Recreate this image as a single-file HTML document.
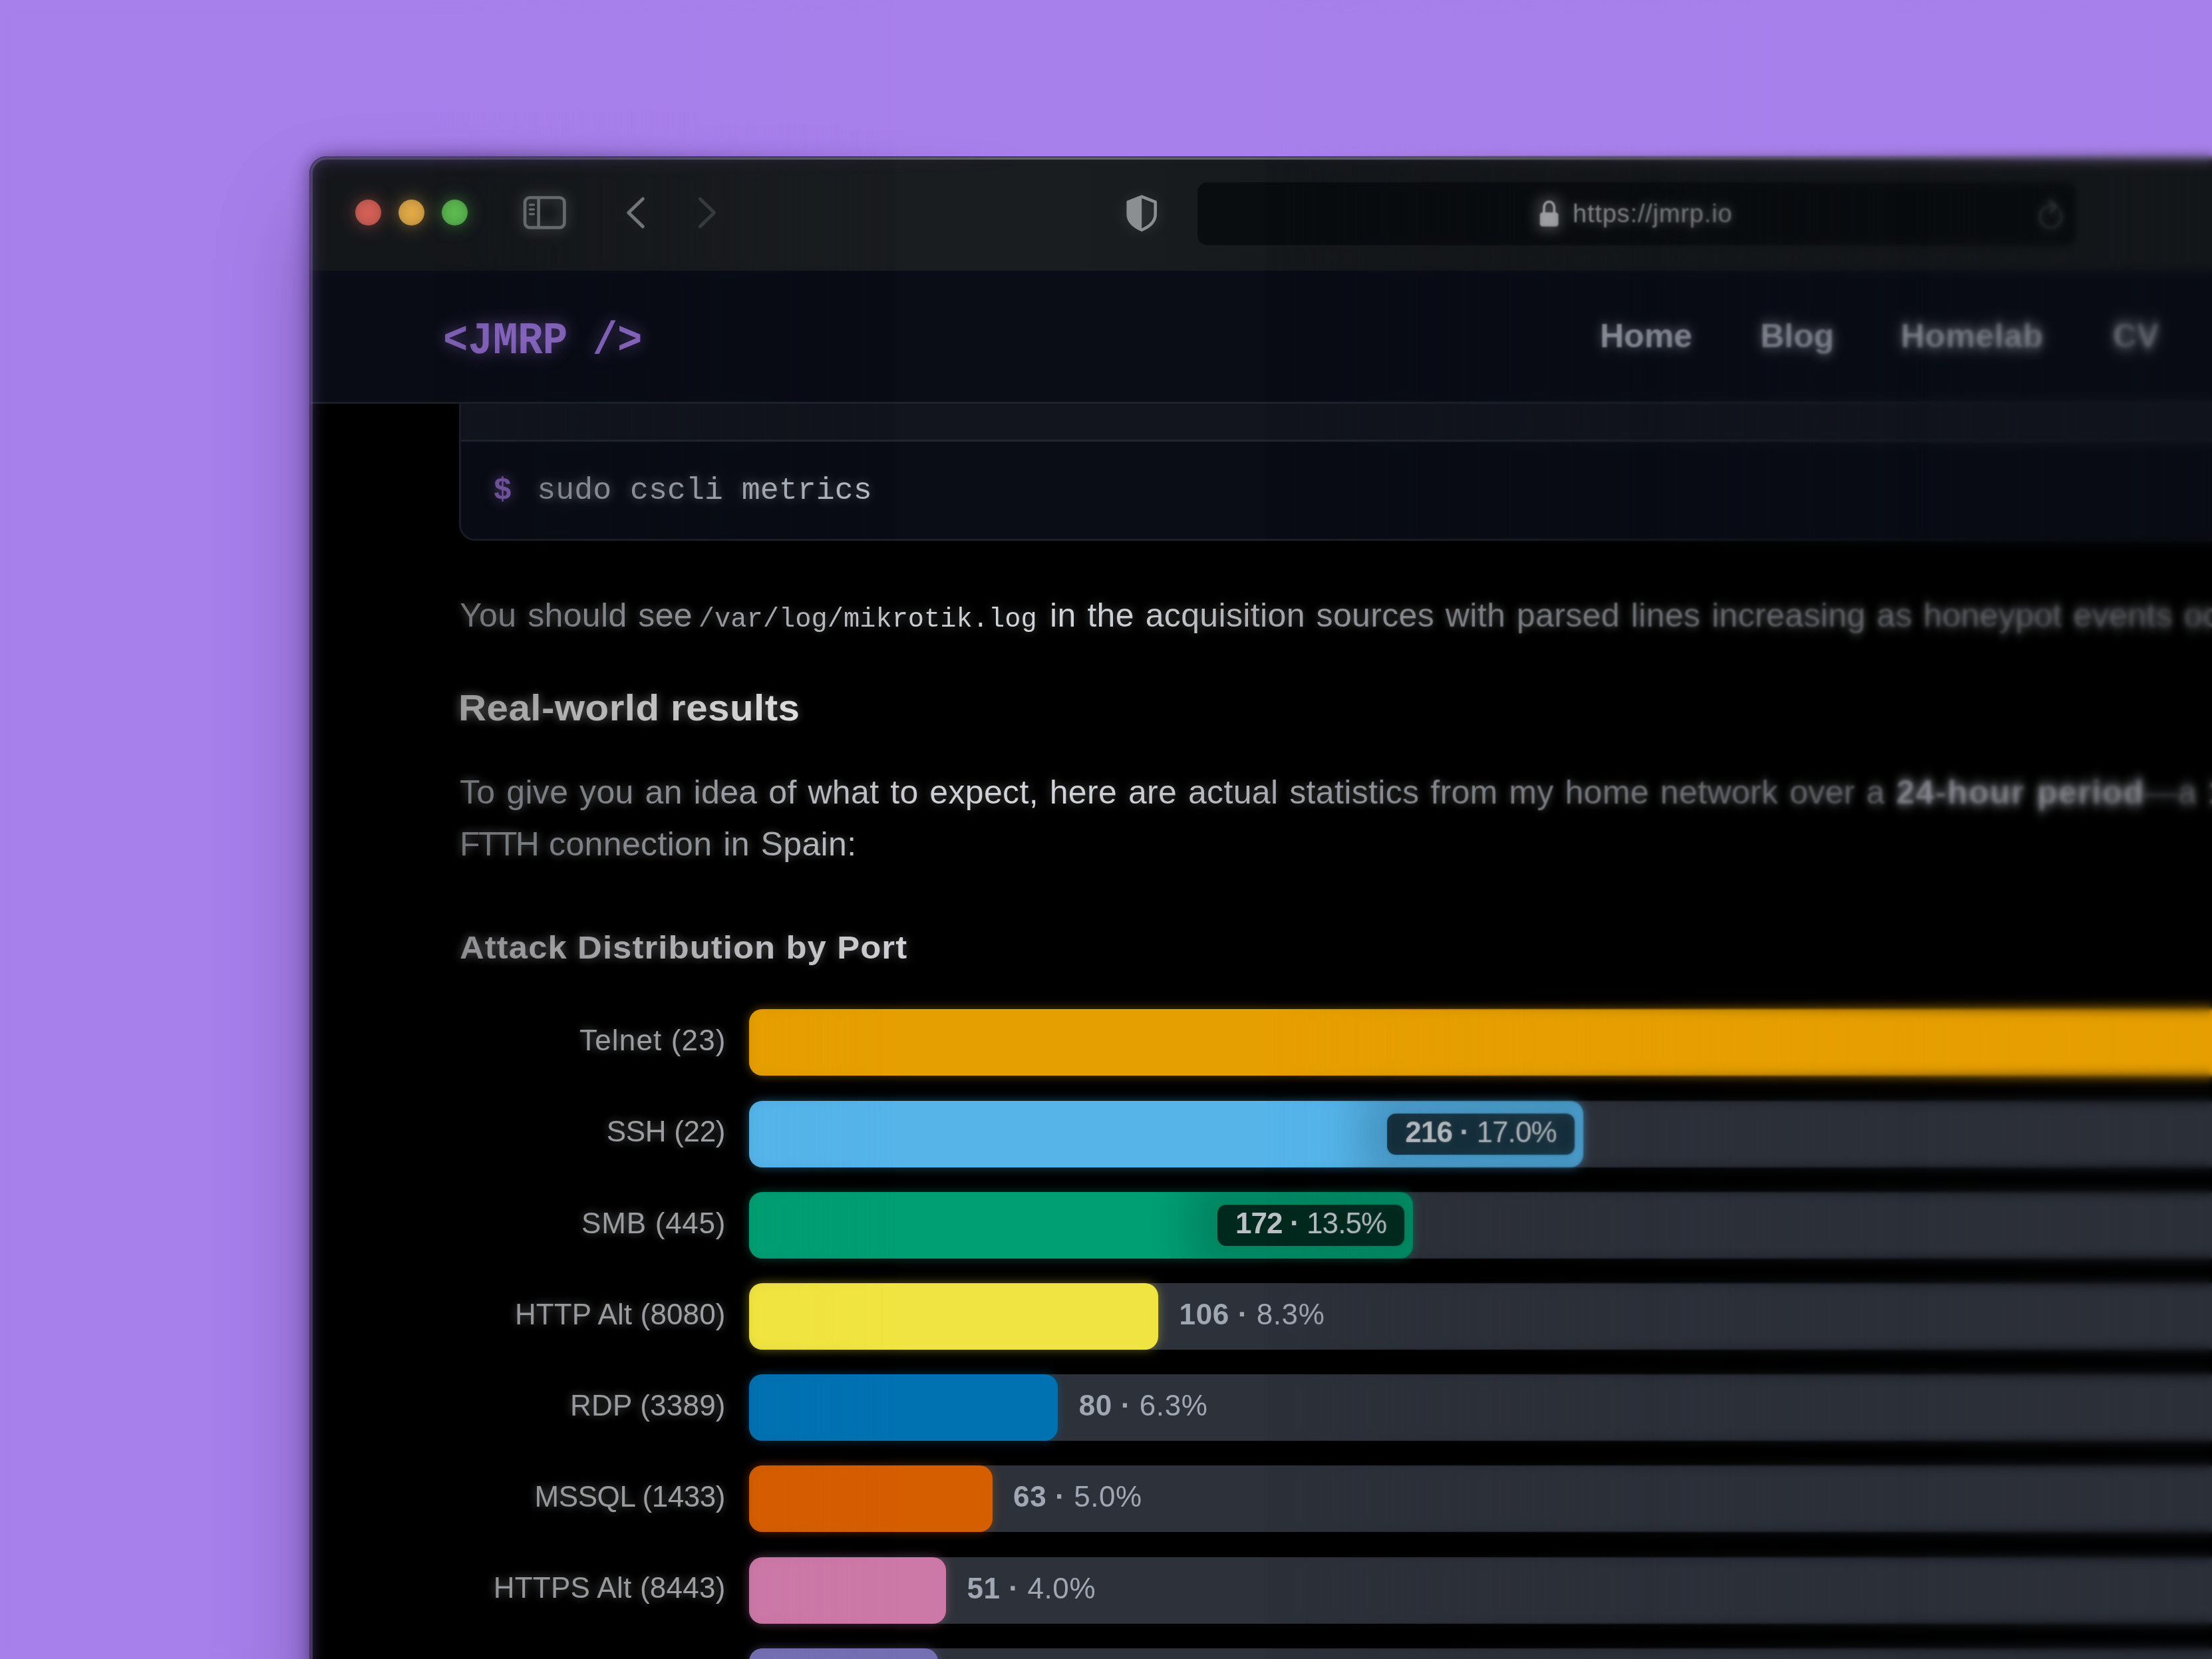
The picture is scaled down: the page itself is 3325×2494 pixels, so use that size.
<!DOCTYPE html>
<html lang="en">
<head>
<meta charset="utf-8">
<title>jmrp.io – MikroTik honeypot with CrowdSec</title>
<style>
*{box-sizing:border-box;margin:0;padding:0}
html,body{width:3325px;height:2494px;overflow:hidden;background:#a880eb}
body{position:relative;font-family:"Liberation Sans",sans-serif}
.abs{position:absolute}
.nw{white-space:nowrap}
/* ---------- window ---------- */
.shadow{position:absolute;left:465px;top:235px;width:3100px;height:2500px;border-radius:26px;
  box-shadow:0 0 30px 0 rgba(24,12,54,.5),0 80px 140px 0 rgba(24,12,54,.28)}
.win{position:absolute;left:465px;top:235px;width:3100px;height:2500px;border-radius:26px;background:#000;overflow:hidden}
.rim{position:absolute;left:465px;top:235px;width:3100px;height:2500px;border-radius:26px;pointer-events:none;
  box-shadow:inset 0 0 0 1.5px rgba(50,34,82,.5),inset 0 0 0 5px rgba(150,135,190,.37),inset 0 0 24px 4px rgba(104,78,166,.4)}
.mk{position:absolute;left:0;top:0;width:3325px;height:2494px;pointer-events:none}
.mkL{-webkit-mask-image:linear-gradient(to right,#000 0,#000 700px,rgba(0,0,0,.35) 1150px,transparent 1550px);mask-image:linear-gradient(to right,#000 0,#000 700px,rgba(0,0,0,.35) 1150px,transparent 1550px)}
.mkR{-webkit-mask-image:linear-gradient(to right,transparent 0,transparent 700px,rgba(0,0,0,.65) 1150px,#000 1550px);mask-image:linear-gradient(to right,transparent 0,transparent 700px,rgba(0,0,0,.65) 1150px,#000 1550px)}
.rimN{box-shadow:inset 0 0 0 1.5px rgba(20,16,30,.55),inset 0 0 0 5px rgba(255,255,255,.3),inset 0 0 14px 2px rgba(90,80,120,.12)}
.titlebar{position:absolute;left:0;top:0;width:100%;height:172px;background:linear-gradient(to right,#15181b 0,#15181b 250px,#1a1d20 750px,#1a1d20 1150px,#16191c 1500px,#15181b 1900px)}
.nav{position:absolute;left:0;top:172px;width:100%;height:200px;background:#0a0d16;border-bottom:3px solid #1f242c}
.dot{position:absolute;width:39px;height:39px;border-radius:50%;top:300px}
/* everything below is positioned in page coordinates */
.mono{font-family:"Liberation Mono",monospace}
.glow{filter:drop-shadow(0 0 7px rgba(255,255,255,.28))}
.gt{color:transparent;-webkit-background-clip:text;background-clip:text;background-repeat:no-repeat;
  background-image:linear-gradient(to right,#84888e 0,#8c9096 200px,#979ba1 360px,#b7babf 520px,#cbced3 700px,#d2d5da 880px,#cbced3 1020px,#b2b5ba 1150px,#9c9fa5 1300px,#8a8e94 1500px,#83878d 1700px,#80848a 1900px,#82868c 2150px,#868a90 2400px,#888c92 2640px)}
.p{position:absolute;left:691px;font-size:50px;line-height:78px;white-space:nowrap;width:2700px;letter-spacing:.35px;word-spacing:2.5px}
.p b{letter-spacing:1.5px;background:#a3a7b0;-webkit-background-clip:text;background-clip:text;color:transparent;filter:blur(1.3px) drop-shadow(0 0 7px rgba(150,155,165,.3))}
.p .mono{letter-spacing:0;word-spacing:0}
.h{position:absolute;left:691px;font-weight:bold;white-space:nowrap;width:2700px}
.navl{top:469px;font-size:50px;line-height:72px;font-weight:bold;color:#a3a8b2;filter:drop-shadow(0 0 8px rgba(163,168,178,.35))}
/* chart */
.lab{position:absolute;left:600px;width:489.5px;text-align:right;font-size:44px;line-height:60px;color:#a9abae;white-space:nowrap}
.track{position:absolute;left:1126px;width:2400px;height:100px;background:#2d313a;border-radius:20px}
.bar{position:absolute;left:0;top:0;height:100px;border-radius:20px;overflow:hidden}
.pill{position:absolute;top:19px;right:13px;height:62px;border-radius:13px;box-shadow:0 0 60px 45px rgba(0,0,0,.16);background:rgba(0,0,0,.74);color:#bcc0c4;letter-spacing:-.9px;
  font-size:44px;line-height:56px;padding:0 27px;white-space:nowrap}
.val{position:absolute;top:19px;height:62px;font-size:44px;line-height:56px;color:#a1a7b2;white-space:nowrap;letter-spacing:.6px;margin-left:-2px}
.pill b,.val b{font-weight:bold}
/* blur layers */
.bl{position:absolute;top:0;height:2494px;right:0;pointer-events:none}
</style>
</head>
<body>
<div class="mk mkL"><div class="shadow"></div></div>
<div class="win">
  <div class="titlebar"></div>
  <div class="nav"></div>
</div>

<!-- BROWSER CHROME -->
<div class="dot" style="left:534px;background:radial-gradient(circle,#d66156 0,#cf5e54 55%,#b9574e 100%);box-shadow:0 0 26px 4px rgba(209,95,85,.28)"></div>
<div class="dot" style="left:599px;background:radial-gradient(circle,#e2aa48 0,#dca646 55%,#c79741 100%);box-shadow:0 0 26px 4px rgba(223,168,72,.28)"></div>
<div class="dot" style="left:664px;background:radial-gradient(circle,#5fbb52 0,#5ab54e 55%,#51a247 100%);box-shadow:0 0 26px 4px rgba(92,184,80,.28)"></div>


<svg class="abs" style="left:0;top:0" width="3325" height="420" viewBox="0 0 3325 420" fill="none">
  <defs>
    <filter id="g1" x="-50%" y="-50%" width="200%" height="200%"><feGaussianBlur stdDeviation="9"/></filter>
    <filter id="wb" x="0" y="0" width="100%" height="100%" color-interpolation-filters="sRGB"><feGaussianBlur stdDeviation="5 9"/></filter>
    <clipPath id="shl"><rect x="1680" y="280" width="36.2" height="80"/></clipPath>
  </defs>
  <!-- sidebar toggle -->
  <g stroke="#6f7477" stroke-linecap="round">
    <g opacity=".35" filter="url(#g1)"><rect x="789" y="297" width="59.4" height="45.2" rx="7.5" stroke-width="9"/></g>
    <rect x="789" y="297" width="59.4" height="45.2" rx="7.5" stroke-width="4.7"/>
    <path d="M809.6 297V342.2" stroke-width="4.6"/>
    <path d="M796.3 307.8H802.5M796.3 314.8H802.5M796.3 321.8H802.5" stroke-width="3.2"/>
  </g>
  <!-- back / forward -->
  <path d="M966.3 299L944.8 319.8L966.3 340.6" stroke="#7c8083" stroke-width="5" stroke-linecap="round" stroke-linejoin="round"/>
  <path d="M1052.2 299L1073.7 319.8L1052.2 340.6" stroke="#3a3e41" stroke-width="5" stroke-linecap="round" stroke-linejoin="round"/>
  <!-- privacy shield -->
  <g>
    <circle cx="1716" cy="321" r="28" fill="#8c8f92" opacity=".14" filter="url(#g1)"/>
    <path id="shp" d="M1716.2 295.6L1736.7 303.6V322C1736.7 333.5 1728.6 340.3 1716.2 345.7C1703.8 340.3 1695.7 333.5 1695.7 322V303.6Z" stroke="#8c8f92" stroke-width="4.5" stroke-linejoin="round"/>
    <path d="M1716.2 295.6L1736.7 303.6V322C1736.7 333.5 1728.6 340.3 1716.2 345.7C1703.8 340.3 1695.7 333.5 1695.7 322V303.6Z" fill="#8c8f92" clip-path="url(#shl)"/>
  </g>
  <!-- url field -->
  <rect x="1800" y="274" width="1321" height="94.5" rx="15" fill="#0a0d10"/>
  <!-- lock -->
  <g>
    <rect x="2308" y="296" width="41" height="52" rx="10" fill="#a0a2a4" opacity=".25" filter="url(#g1)"/>
    <rect x="2314.7" y="319.3" width="27.8" height="21.3" rx="4.2" fill="#a2a4a6"/>
    <path d="M2320.9 321V312.6C2320.9 299.9 2336.3 299.9 2336.3 312.6V321" stroke="#a2a4a6" stroke-width="3.7"/>
  </g>
  <!-- reload -->
  <g stroke="#4d5156" stroke-width="3" stroke-linecap="round" stroke-linejoin="round">
    <path d="M3095.9 316.4A16.3 16.3 0 1 1 3089.4 311"/>
    <path d="M3080.2 302L3091.8 310.4L3082 319"/>
  </g>
</svg>
<div class="abs nw" style="left:2364px;top:296px;font-size:38px;line-height:50px;letter-spacing:.8px;color:#909396;filter:drop-shadow(0 0 8px rgba(200,205,210,.3))">https://jmrp.io</div>

<!-- site nav -->
<div class="abs nw mono" style="left:666px;top:463.6px;font-size:62.4px;line-height:90px;font-weight:bold;transform:scaleY(1.1);transform-origin:0 0;color:#8b69c4;filter:drop-shadow(0 0 12px rgba(139,105,196,.45))">&lt;JMRP /&gt;</div>
<div class="abs nw navl" style="left:2405px;color:#8f949e;filter:drop-shadow(0 0 9px rgba(163,168,178,.4))">Home</div>
<div class="abs nw navl" style="left:2646px;color:#8c919b;filter:drop-shadow(0 0 10px rgba(163,168,178,.42))">Blog</div>
<div class="abs nw navl" style="left:2857px;letter-spacing:.5px;color:#92979f;filter:drop-shadow(0 0 11px rgba(163,168,178,.45))">Homelab</div>
<div class="abs nw navl" style="left:3176px;color:#8a8f99;filter:drop-shadow(0 0 12px rgba(150,155,165,.45))">CV</div>

<!-- CONTENT -->
<!-- code block -->
<div class="abs" style="left:690px;top:607px;width:2800px;height:205.5px;border:3px solid #1d222a;border-top:0;border-radius:0 0 24px 24px;background:#0a0d15;overflow:hidden">
  <div style="height:57px;background:#12151d;border-bottom:3px solid #22272f"></div>
</div>
<div class="abs nw mono" style="left:741.4px;top:708px;font-size:46.6px;line-height:60px;font-weight:bold;color:#7a5aa8;filter:drop-shadow(0 0 9px rgba(122,90,168,.5))">$</div>
<div class="abs nw mono gt glow" style="left:807.3px;top:708px;width:700px;font-size:46.6px;line-height:60px;background-image:linear-gradient(to right,#8c929d 0,#9aa0aa 200px,#b6bcc6 500px)">sudo cscli metrics</div>

<p class="p gt glow" style="top:886px">You should see <span class="mono" style="font-size:40.4px;margin-left:-8px;margin-right:2.5px">/var/log/mikrotik.log</span> in the acquisition sources with parsed lines increasing as honeypot events occur.</p>
<h3 class="h glow gt" style="top:1024px;left:688.5px;font-size:56px;line-height:80px;letter-spacing:.4px;transform:scaleX(1.042);transform-origin:0 0;background-image:linear-gradient(to right,#acacac 0,#c4c4c4 200px,#e8e8e8 520px)">Real-world results</h3>
<p class="p gt glow" style="top:1151.5px">To give you an idea of what to expect, here are actual statistics from my home network over a <b>24-hour period</b>—a <b>1 Gbps</b> symmetric<br><span style="letter-spacing:-2.6px">FTTH</span> connection in Spain:</p>
<h4 class="h glow gt" style="top:1385px;font-size:48px;line-height:80px;letter-spacing:1px;transform:scaleX(1.06);transform-origin:0 0;background-image:linear-gradient(to right,#a2a2a6 0,#b4b4b8 250px,#d6d6da 680px)">Attack Distribution by Port</h4>


<!-- CHART -->
<div class="lab glow" style="top:1534.2px;letter-spacing:1.15px;width:491.65px">Telnet (23)</div>
<div class="track" style="top:1517.4px"><div class="bar" style="width:2797.5px;background:#e69f00;box-shadow:0 0 16px rgba(230,159,0,0.4)"><span class="pill"><b>482 ·</b> 37.9%</span></div></div>
<div class="lab glow" style="top:1671.4px;letter-spacing:-0.3px;width:490.20px">SSH (22)</div>
<div class="track" style="top:1654.6px"><div class="bar" style="width:1253.7px;background:#56b4e9;box-shadow:0 0 16px rgba(86,180,233,0.4)"><span class="pill"><b>216 ·</b> 17.0%</span></div></div>
<div class="lab glow" style="top:1808.6px;letter-spacing:0.76px;width:491.26px">SMB (445)</div>
<div class="track" style="top:1791.8px"><div class="bar" style="width:998.3px;background:#009e73;box-shadow:0 0 16px rgba(0,158,115,0.4)"><span class="pill"><b>172 ·</b> 13.5%</span></div></div>
<div class="lab glow" style="top:1945.8px;letter-spacing:0.14px;width:490.64px">HTTP Alt (8080)</div>
<div class="track" style="top:1929.0px"><div class="bar" style="width:615.2px;background:#f0e442;box-shadow:0 0 16px rgba(240,228,66,0.4)"></div><span class="val" style="left:648.6px"><b>106 ·</b> 8.3%</span></div>
<div class="lab glow" style="top:2082.9px;letter-spacing:0.21px;width:490.71px">RDP (3389)</div>
<div class="track" style="top:2066.2px"><div class="bar" style="width:464.3px;background:#0072b2;box-shadow:0 0 16px rgba(0,114,178,0.4)"></div><span class="val" style="left:497.7px"><b>80 ·</b> 6.3%</span></div>
<div class="lab glow" style="top:2220.2px;letter-spacing:-0.45px;width:490.05px">MSSQL (1433)</div>
<div class="track" style="top:2203.4px"><div class="bar" style="width:365.7px;background:#d55e00;box-shadow:0 0 16px rgba(213,94,0,0.4)"></div><span class="val" style="left:399.1px"><b>63 ·</b> 5.0%</span></div>
<div class="lab glow" style="top:2357.3px;letter-spacing:0.27px;width:490.77px">HTTPS Alt (8443)</div>
<div class="track" style="top:2340.6px"><div class="bar" style="width:296.0px;background:#cc79a7;box-shadow:0 0 16px rgba(204,121,167,0.4)"></div><span class="val" style="left:329.4px"><b>51 ·</b> 4.0%</span></div>
<div class="lab glow" style="top:2494.6px;letter-spacing:0px;width:490.50px">VNC (5900)</div>
<div class="track" style="top:2477.8px"><div class="bar" style="width:284.4px;background:#7570b3;box-shadow:0 0 16px rgba(117,112,179,0.4)"></div><span class="val" style="left:317.8px"><b>49 ·</b> 3.9%</span></div>


<div class="mk mkL"><div class="rim"></div></div>
<div class="mk mkR"><div class="rim rimN"></div></div>
<!-- progressive blur -->
<div class="bl" style="left:0;backdrop-filter:blur(.7px);-webkit-backdrop-filter:blur(.7px)"></div>
<div class="bl" style="top:0px;height:2494px;left:1900px;backdrop-filter:blur(1.0px);-webkit-backdrop-filter:blur(1.0px);-webkit-mask-image:linear-gradient(to right,transparent 0,#000 600px);mask-image:linear-gradient(to right,transparent 0,#000 600px)"></div>
<div class="bl" style="top:0px;height:2494px;left:2450px;backdrop-filter:blur(1.5px);-webkit-backdrop-filter:blur(1.5px);-webkit-mask-image:linear-gradient(to right,transparent 0,#000 450px);mask-image:linear-gradient(to right,transparent 0,#000 450px)"></div>
<div class="bl" style="top:0px;height:2494px;left:2850px;backdrop-filter:blur(2.0px);-webkit-backdrop-filter:blur(2.0px);-webkit-mask-image:linear-gradient(to right,transparent 0,#000 475px);mask-image:linear-gradient(to right,transparent 0,#000 475px)"></div>
<div class="bl" style="top:0;height:2494px;left:1900px;backdrop-filter:url(#wb);-webkit-backdrop-filter:url(#wb);-webkit-mask-image:linear-gradient(to right,transparent 0,rgba(0,0,0,.15) 400px,rgba(0,0,0,.4) 800px,rgba(0,0,0,.68) 1150px,rgba(0,0,0,.8) 1425px);mask-image:linear-gradient(to right,transparent 0,rgba(0,0,0,.15) 400px,rgba(0,0,0,.4) 800px,rgba(0,0,0,.68) 1150px,rgba(0,0,0,.8) 1425px)"></div>
<div class="bl" style="top:0;height:2494px;left:0;width:1350px;right:auto;backdrop-filter:blur(.55px);-webkit-backdrop-filter:blur(.55px);-webkit-mask-image:linear-gradient(to right,#000 0,#000 650px,transparent 1350px);mask-image:linear-gradient(to right,#000 0,#000 650px,transparent 1350px)"></div>
<div class="bl" style="top:0;height:2494px;left:0;width:1350px;right:auto;backdrop-filter:blur(8px);-webkit-backdrop-filter:blur(8px);-webkit-mask-image:linear-gradient(to right,rgba(0,0,0,.2) 0,rgba(0,0,0,.2) 700px,rgba(0,0,0,.09) 1050px,transparent 1350px);mask-image:linear-gradient(to right,rgba(0,0,0,.2) 0,rgba(0,0,0,.2) 700px,rgba(0,0,0,.09) 1050px,transparent 1350px)"></div>
</body>
</html>
